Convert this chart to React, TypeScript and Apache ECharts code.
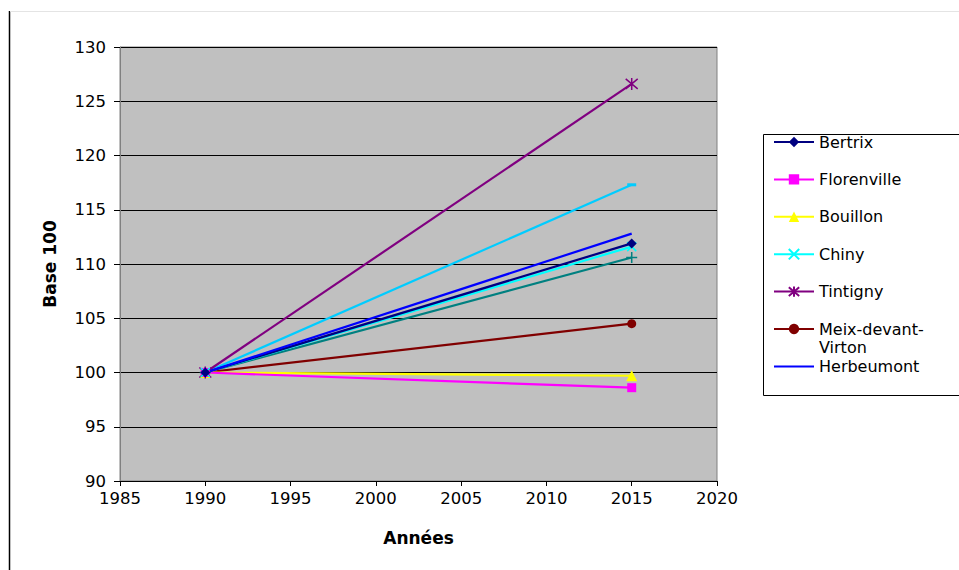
import React, { useEffect, useRef } from "react";
import * as echarts from "echarts";

const years = [1990, 2015];
const bertrix = [100, 111.9];
const florenville = [100, 98.6];
const bouillon = [100, 99.7];
const chiny = [100, 111.6];
const tintigny = [100, 126.6];
const meix = [100, 104.5];
const herbeumont = [100, 112.8];
const serie8 = [100, 110.6];
const serie9 = [100, 117.3];

const legendNames = ["Bertrix", "Florenville", "Bouillon", "Chiny", "Tintigny", "Meix-devant-Virton", "Herbeumont"];

const FONT = "DejaVu Sans";
const X_SYM = "path://M0,0L10,10M10,0L0,10";
const STAR_SYM = "path://M0,0L10,10M10,0L0,10M5,-1L5,11";
const PLUS_SYM = "path://M5,0L5,10M0,5L10,5";
const LINE_ICON = "path://M0,0L40,0L40,2L0,2Z";

function toPairs(vals: number[]) {
  return years.map((y, i) => [y, vals[i]]);
}

export default function App() {
  const ref = useRef<HTMLDivElement>(null);
  useEffect(() => {
    if (!ref.current) return;
    const chart = echarts.init(ref.current, null, { renderer: "svg" });
    const mk = (name: string, vals: number[], color: string, symbol: string, size: any, stroke = false) => ({
      name,
      type: "line",
      data: toPairs(vals),
      symbol,
      symbolSize: size,
      showSymbol: symbol !== "none",
      lineStyle: { color, width: 2.2 },
      itemStyle: stroke
        ? { color, borderColor: color, borderWidth: 1.5 }
        : { color, borderColor: color, borderWidth: 0 },
      emphasis: { disabled: true },
    });
    chart.setOption({
      animation: false,
      backgroundColor: "#ffffff",
      textStyle: { fontFamily: FONT },
      grid: {
        left: 120,
        top: 47,
        width: 597,
        height: 434,
        show: true,
        backgroundColor: "#C0C0C0",
        borderColor: "#808080",
        borderWidth: 1,
      },
      xAxis: {
        type: "value",
        min: 1985,
        max: 2020,
        interval: 5,
        name: "Années",
        nameLocation: "middle",
        nameGap: 48,
        nameTextStyle: { fontFamily: FONT, fontSize: 17, fontWeight: "bold", color: "#000" },
        axisLine: { show: true, onZero: false, lineStyle: { color: "#000", width: 1 } },
        axisTick: { show: true, length: 5, lineStyle: { color: "#000" } },
        axisLabel: { color: "#000", fontFamily: FONT, fontSize: 16.5, margin: 9, formatter: (v: number) => String(v) },
        splitLine: { show: false },
      },
      yAxis: {
        type: "value",
        min: 90,
        max: 130,
        interval: 5,
        name: "Base 100",
        nameLocation: "middle",
        nameGap: 62,
        nameRotate: 90,
        nameTextStyle: { fontFamily: FONT, fontSize: 17, fontWeight: "bold", color: "#000" },
        axisLine: { show: true, lineStyle: { color: "#808080", width: 1 } },
        axisTick: { show: true, length: 6, lineStyle: { color: "#000" } },
        axisLabel: { color: "#000", fontFamily: FONT, fontSize: 16.5, margin: 14 },
        splitLine: { show: true, lineStyle: { color: "#000", width: 1 } },
      },
      legend: {
        data: legendNames.map((n) => (n === "Herbeumont" ? { name: n, icon: LINE_ICON } : { name: n })),
        orient: "vertical",
        left: 773,
        top: 133,
        padding: 0,
        itemWidth: 40,
        itemHeight: 13,
        itemGap: 19.4,
        selectedMode: false,
        formatter: (n: string) => (n === "Meix-devant-Virton" ? "Meix-devant-" : n),
        textStyle: { fontFamily: FONT, fontSize: 16, color: "#000", lineHeight: 18 },
      },
      graphic: [
        { type: "line", shape: { x1: 9.5, y1: 11, x2: 9.5, y2: 570 }, style: { stroke: "#000", lineWidth: 1.5 } },
        { type: "line", shape: { x1: 10, y1: 11.5, x2: 959, y2: 11.5 }, style: { stroke: "#e4e4e4", lineWidth: 1 } },
        {
          type: "rect",
          shape: { x: 763.5, y: 134.5, width: 210, height: 261 },
          style: { fill: "#fff", stroke: "#000", lineWidth: 1 },
          z: -1,
        },
        {
          type: "text",
          left: 819,
          top: 339,
          style: { text: "Virton", fontFamily: FONT, fontSize: 16, fill: "#000" },
        },
      ],
      series: [
        mk("Série 9", serie9, "#00CCFF", "rect", [9, 3]),
        mk("Série 8", serie8, "#008080", PLUS_SYM, 11, true),
        mk("Meix-devant-Virton", meix, "#800000", "circle", 9),
        mk("Bouillon", bouillon, "#FFFF00", "triangle", 11),
        mk("Florenville", florenville, "#FF00FF", "rect", 9),
        mk("Tintigny", tintigny, "#800080", STAR_SYM, 12, true),
        mk("Chiny", chiny, "#00FFFF", X_SYM, 9, true),
        mk("Bertrix", bertrix, "#000080", "diamond", 10),
        mk("Herbeumont", herbeumont, "#0000FF", "none", 0),
      ],
    });
    return () => chart.dispose();
  }, []);
  return <div ref={ref} style={{ position: "fixed", left: 0, top: 0, width: 959, height: 570 }} />;
}
